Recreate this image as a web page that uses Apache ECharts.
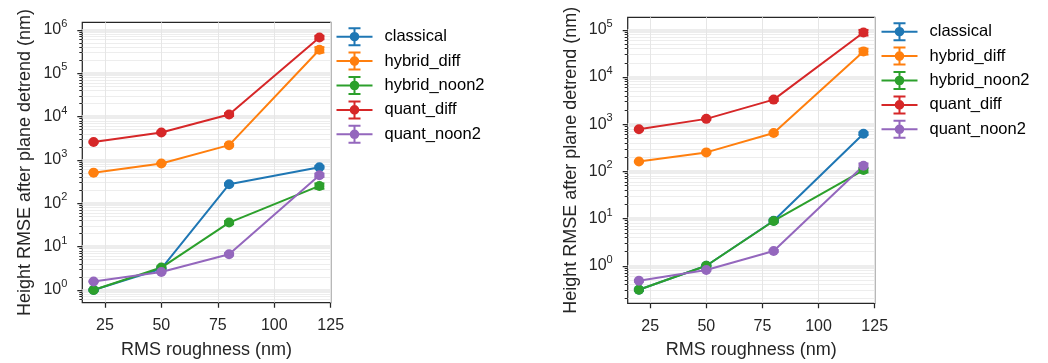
<!DOCTYPE html>
<html>
<head>
<meta charset="utf-8">
<script src="https://cdn.jsdelivr.net/npm/echarts@6/dist/echarts.min.js"></script>
<style>
  html, body { margin: 0; padding: 0; background: #fff; }
  #chart { width: 1048px; height: 363px; }
</style>
</head>
<body>
<div id="chart"></div>
<script>
// x positions (RMS roughness, nm)
const roughness = [20, 50, 80, 120];
const methods = ['classical', 'hybrid_diff', 'hybrid_noon2', 'quant_diff', 'quant_noon2'];
const colors = ['#1f77b4', '#ff7f0e', '#2ca02c', '#d62728', '#9467bd'];

// left panel: height RMSE after plane detrend (nm)
const leftClassical = [1.0, 3.1, 275, 680];
const leftHybridDiff = [510, 830, 2200, 350000];
const leftHybridNoon2 = [1.0, 3.3, 36, 252];
const leftQuantDiff = [2600, 4300, 11200, 670000];
const leftQuantNoon2 = [1.58, 2.6, 6.7, 445];
// left panel: error bar half widths
const leftClassicalErr = [0.03, 0.1, 15, 40];
const leftHybridDiffErr = [15, 25, 120, 50000];
const leftHybridNoon2Err = [0.05, 0.2, 3, 35];
const leftQuantDiffErr = [100, 200, 800, 60000];
const leftQuantNoon2Err = [0.05, 0.1, 0.4, 40];

// right panel
const rightClassical = [0.31, 1.0, 9.0, 630];
const rightHybridDiff = [162, 253, 650, 35000];
const rightHybridNoon2 = [0.31, 1.0, 8.9, 107];
const rightQuantDiff = [780, 1300, 3330, 88000];
const rightQuantNoon2 = [0.48, 0.81, 2.05, 132];
const rightClassicalErr = [0.01, 0.03, 0.4, 40];
const rightHybridDiffErr = [5, 10, 40, 5000];
const rightHybridNoon2Err = [0.015, 0.05, 0.6, 12];
const rightQuantDiffErr = [30, 50, 200, 12000];
const rightQuantNoon2Err = [0.02, 0.03, 0.1, 15];

// tick labels
const xTicks = [25, 50, 75, 100, 125];
const leftMajor = [1, 10, 100, 1000, 10000, 100000, 1000000];
const rightMajor = [1, 10, 100, 1000, 10000, 100000];

const leftValues = [leftClassical, leftHybridDiff, leftHybridNoon2, leftQuantDiff, leftQuantNoon2];
const leftErrors = [leftClassicalErr, leftHybridDiffErr, leftHybridNoon2Err, leftQuantDiffErr, leftQuantNoon2Err];
const rightValues = [rightClassical, rightHybridDiff, rightHybridNoon2, rightQuantDiff, rightQuantNoon2];
const rightErrors = [rightClassicalErr, rightHybridDiffErr, rightHybridNoon2Err, rightQuantDiffErr, rightQuantNoon2Err];

const textColor = '#262626';
const font = 'Liberation Sans';

// minor log ticks 2..9 x 10^k inside [lo, hi]
function minorTicks(lo, hi) {
    const out = [];
    for (let k = -2; k <= 7; k++) {
        for (let m = 2; m <= 9; m++) {
            const v = m * Math.pow(10, k);
            if (v > lo && v < hi) out.push(v);
        }
    }
    return out;
}

function errorRender(color) {
    return function (params, api) {
        const x = api.value(0);
        const top = api.coord([x, api.value(2)]);
        const bot = api.coord([x, api.value(1)]);
        const w = 5;
        const style = { stroke: color, lineWidth: 2, fill: null };
        return {
            type: 'group',
            children: [
                { type: 'line', shape: { x1: top[0], y1: top[1], x2: bot[0], y2: bot[1] }, style: style },
                { type: 'line', shape: { x1: top[0] - w, y1: top[1], x2: top[0] + w, y2: top[1] }, style: style },
                { type: 'line', shape: { x1: bot[0] - w, y1: bot[1], x2: bot[0] + w, y2: bot[1] }, style: style }
            ]
        };
    };
}

function xAxis(gridIndex) {
    return {
        type: 'value',
        gridIndex: gridIndex,
        min: 15,
        max: 125,
        name: 'RMS roughness (nm)',
        nameLocation: 'middle',
        nameGap: 38,
        nameTextStyle: { fontFamily: font, fontSize: 18, color: textColor },
        axisLine: { show: false },
        axisTick: { show: true, customValues: xTicks, length: 5, lineStyle: { color: textColor, width: 1.25 } },
        axisLabel: { customValues: xTicks, fontFamily: font, fontSize: 16, color: textColor, margin: 15 },
        splitLine: { show: true, lineStyle: { color: '#e6e6e6', width: 1 } }
    };
}

function yMajor(gridIndex, lo, hi, ticks) {
    return {
        type: 'log',
        gridIndex: gridIndex,
        min: lo,
        max: hi,
        name: 'Height RMSE after plane detrend (nm)',
        nameLocation: 'middle',
        nameGap: 48,
        nameTextStyle: { fontFamily: font, fontSize: 18, color: textColor },
        axisLine: { show: false },
        axisTick: { show: true, customValues: ticks, length: 5, lineStyle: { color: textColor, width: 1.25 } },
        axisLabel: {
            customValues: ticks,
            margin: 15,
            formatter: function (v) {
                return '{b|10}{s|' + Math.round(Math.log10(v)) + '}';
            },
            rich: {
                b: { fontFamily: font, fontSize: 16, color: textColor },
                s: { fontFamily: font, fontSize: 11, color: textColor, padding: [0, 0, 12, 0] }
            }
        },
        splitLine: { show: true, lineStyle: { color: '#ededed', width: 3 } }
    };
}

function yMinor(gridIndex, lo, hi) {
    const minors = minorTicks(lo, hi);
    return {
        type: 'log',
        gridIndex: gridIndex,
        min: lo,
        max: hi,
        position: 'left',
        axisLine: { show: false },
        axisTick: { show: true, customValues: minors, length: 3, lineStyle: { color: textColor, width: 1 } },
        axisLabel: { show: false },
        splitLine: { show: true, lineStyle: { color: '#ededed', width: 1 } }
    };
}

// errorbar handle: line, marker, vertical bar with caps (36 x 19 box)
const legendIcon = 'path://M0,8.5H36V10.5H0Z M17,0H19V19H17Z M12,0H24V2H12Z M12,17H24V19H12Z M22.8,9.5A4.8,4.8,0,1,1,13.2,9.5A4.8,4.8,0,1,1,22.8,9.5Z';

function legend(left, top) {
    return {
        left: left,
        top: top,
        orient: 'vertical',
        padding: 0,
        itemWidth: 36,
        itemHeight: 19,
        itemGap: 5.4,
        textStyle: { fontFamily: font, fontSize: 16.5, color: '#000', lineHeight: 18, padding: [0, 0, 0, 7] },
        data: methods.map(name => ({ name: name, icon: legendIcon }))
    };
}

const series = [];
function addPanel(values, errors, xIdx, yIdx) {
    methods.forEach((name, i) => {
        series.push({
            name: name,
            type: 'custom',
            xAxisIndex: xIdx,
            yAxisIndex: yIdx,
            renderItem: errorRender(colors[i]),
            encode: { x: 0, y: [1, 2] },
            data: roughness.map((x, j) => [x, values[i][j] - errors[i][j], values[i][j] + errors[i][j]]),
            silent: true,
            z: 5
        });
        series.push({
            name: name,
            type: 'line',
            xAxisIndex: xIdx,
            yAxisIndex: yIdx,
            data: roughness.map((x, j) => [x, values[i][j]]),
            symbol: 'circle',
            symbolSize: 10,
            color: colors[i],
            lineStyle: { width: 2, color: colors[i] },
            itemStyle: { color: colors[i] },
            z: 5
        });
    });
}
addPanel(leftValues, leftErrors, 0, 0);
addPanel(rightValues, rightErrors, 1, 2);

const chart = echarts.init(document.getElementById('chart'), null, { renderer: 'canvas' });
const options = {
    animation: false,
    color: colors,
    grid: [
        { left: 82.3, top: 22.3, width: 248.4, height: 280.4, outerBoundsMode: 'none', containLabel: false, show: true, borderColor: textColor, borderWidth: 1.25, backgroundColor: 'transparent' },
        { left: 627.7, top: 17.3, width: 247, height: 286, outerBoundsMode: 'none', containLabel: false, show: true, borderColor: textColor, borderWidth: 1.25, backgroundColor: 'transparent' }
    ],
    xAxis: [xAxis(0), xAxis(1)],
    yAxis: [
        yMajor(0, 0.51, 1.5e6, leftMajor),
        yMinor(0, 0.51, 1.5e6),
        yMajor(1, 0.16, 1.85e5, rightMajor),
        yMinor(1, 0.16, 1.85e5)
    ],
    legend: [legend(336.5, 27.2), legend(881.5, 22.2)],
    series: series
};
chart.setOption(options);
</script>
</body>
</html>
